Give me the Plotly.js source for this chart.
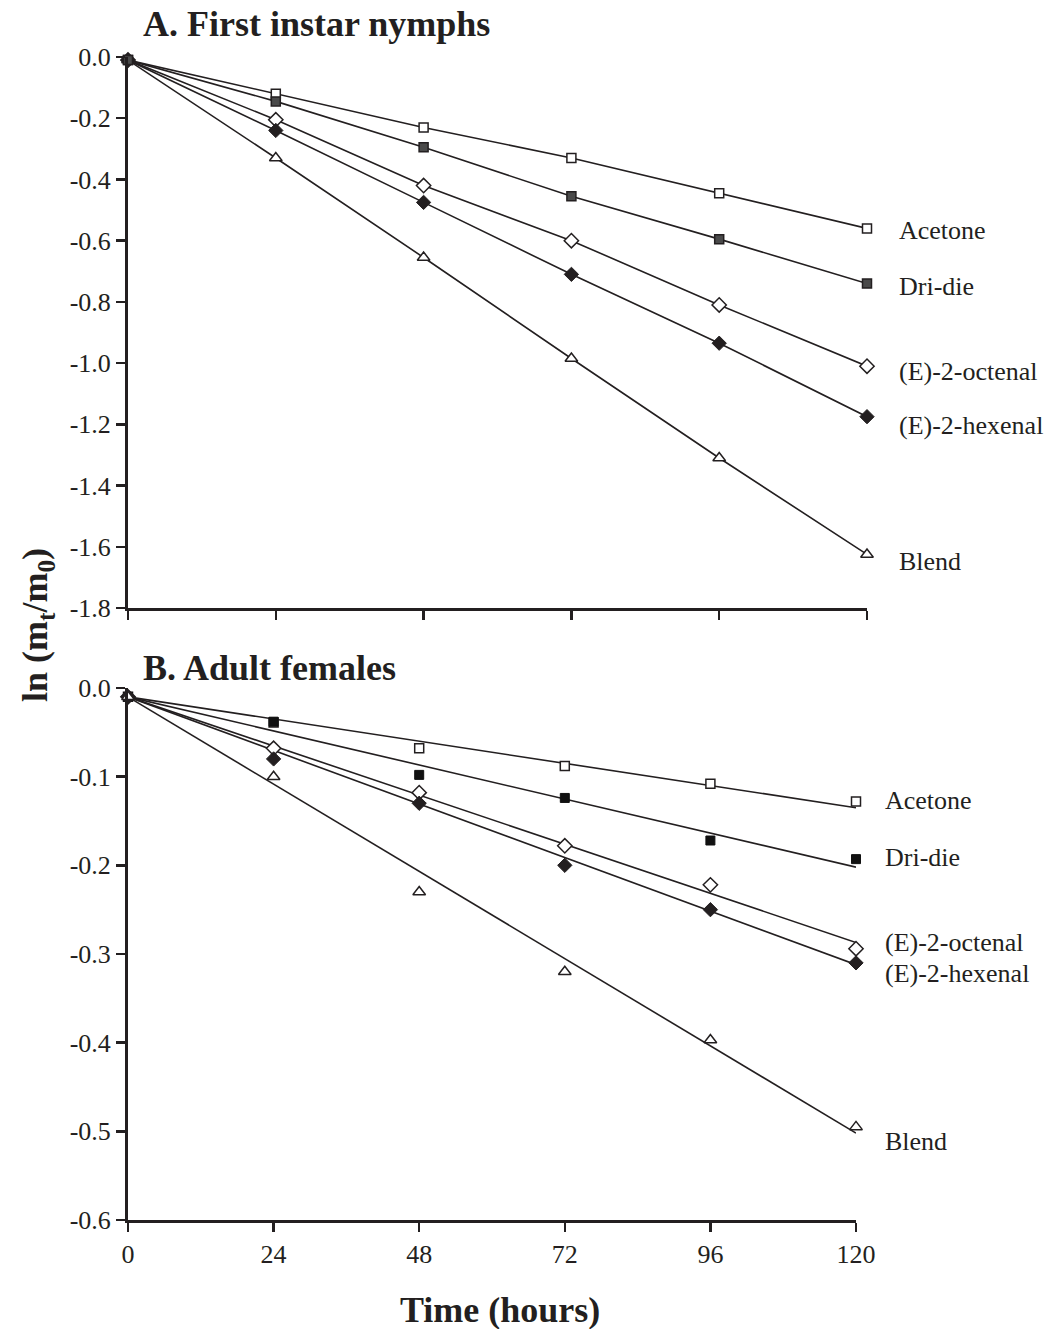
<!DOCTYPE html>
<html><head><meta charset="utf-8">
<script src="https://cdn.plot.ly/plotly-3.0.1.min.js"></script>
<style>body{margin:0;background:#fff}</style>
</head><body><div id="chart" style="width:1058px;height:1329px"></div>
<script>
// ---- data ----
const hours = [0, 24, 48, 72, 96, 120];
const seriesNames = ['Acetone', 'Dri-die', '(E)-2-octenal', '(E)-2-hexenal', 'Blend'];

// Panel A: first instar nymphs, ln(mt/m0)
const nymphAcetone = [-0.01, -0.12, -0.23, -0.33, -0.445, -0.56];
const nymphDridie  = [-0.01, -0.145, -0.295, -0.455, -0.595, -0.74];
const nymphOctenal = [-0.01, -0.205, -0.42, -0.60, -0.81, -1.01];
const nymphHexenal = [-0.01, -0.24, -0.475, -0.71, -0.935, -1.175];
const nymphBlend   = [-0.01, -0.33, -0.655, -0.985, -1.31, -1.625];

// Panel B: adult females, ln(mt/m0)
const adultAcetone = [-0.01, -0.039, -0.068, -0.088, -0.108, -0.128];
const adultDridie  = [-0.01, -0.038, -0.098, -0.124, -0.172, -0.193];
const adultOctenal = [-0.01, -0.068, -0.118, -0.178, -0.222, -0.294];
const adultHexenal = [-0.01, -0.08, -0.13, -0.20, -0.25, -0.31];
const adultBlend   = [-0.01, -0.10, -0.23, -0.32, -0.397, -0.495];

// Panel B: fitted regression lines (start at 0 h, end at 120 h)
const fitHours = [0, 120];
const adultAcetoneFit = [-0.01, -0.135];
const adultDridieFit  = [-0.01, -0.202];
const adultOctenalFit = [-0.01, -0.287];
const adultHexenalFit = [-0.01, -0.312];
const adultBlendFit   = [-0.01, -0.502];

// tick labels
const xTickVals = [0, 24, 48, 72, 96, 120];
const xTickText = ['0', '24', '48', '72', '96', '120'];
const yTickValsA = [0, -0.2, -0.4, -0.6, -0.8, -1.0, -1.2, -1.4, -1.6, -1.8];
const yTickTextA = ['0.0', '-0.2', '-0.4', '-0.6', '-0.8', '-1.0', '-1.2', '-1.4', '-1.6', '-1.8'];
const yTickValsB = [0, -0.1, -0.2, -0.3, -0.4, -0.5, -0.6];
const yTickTextB = ['0.0', '-0.1', '-0.2', '-0.3', '-0.4', '-0.5', '-0.6'];

// ---- styles ----
const INK = '#231f20';
const FONT = '"Liberation Serif", "Times New Roman", serif';
const markerA = [
  {symbol: 'square', size: 9, color: '#fff', line: {width: 1.5, color: INK}},
  {symbol: 'square', size: 9, color: '#4a4a4a', line: {width: 1.5, color: INK}},
  {symbol: 'diamond', size: 11, color: '#fff', line: {width: 1.5, color: INK}},
  {symbol: 'diamond', size: 11, color: INK, line: {width: 1, color: INK}},
  {symbol: 'triangle-up', size: 11, color: '#fff', line: {width: 1.5, color: INK}}
];
const markerB = [
  {symbol: 'square', size: 9, color: '#fff', line: {width: 1.5, color: INK}},
  {symbol: 'square', size: 9, color: '#111', line: {width: 1, color: '#111'}},
  {symbol: 'diamond', size: 11, color: '#fff', line: {width: 1.5, color: INK}},
  {symbol: 'diamond', size: 11, color: INK, line: {width: 1, color: INK}},
  {symbol: 'triangle-up', size: 11, color: '#fff', line: {width: 1.5, color: INK}}
];

const nymphData = [nymphAcetone, nymphDridie, nymphOctenal, nymphHexenal, nymphBlend];
const adultData = [adultAcetone, adultDridie, adultOctenal, adultHexenal, adultBlend];
const adultFits = [adultAcetoneFit, adultDridieFit, adultOctenalFit, adultHexenalFit, adultBlendFit];
const orderA = [0, 2, 3, 4, 1];   // drawing order (dri-die on top)
const orderB = [0, 1, 2, 3, 4];

const traces = [];
orderA.forEach(i => {
  traces.push({x: hours, y: nymphData[i], xaxis: 'x', yaxis: 'y', type: 'scatter', mode: 'lines',
    name: seriesNames[i], cliponaxis: false, showlegend: false,
    line: {color: INK, width: 1.6}});
});
orderA.forEach(i => {
  traces.push({x: hours, y: nymphData[i], xaxis: 'x', yaxis: 'y', type: 'scatter', mode: 'markers',
    name: seriesNames[i], cliponaxis: false, showlegend: false, marker: markerA[i]});
});
adultFits.forEach((ys, i) => {
  traces.push({x: fitHours, y: ys, xaxis: 'x2', yaxis: 'y2', type: 'scatter', mode: 'lines',
    name: seriesNames[i] + ' fit', cliponaxis: false, showlegend: false,
    line: {color: INK, width: 1.6}});
});
orderB.forEach(i => {
  traces.push({x: hours, y: adultData[i], xaxis: 'x2', yaxis: 'y2', type: 'scatter', mode: 'markers',
    name: seriesNames[i], cliponaxis: false, showlegend: false, marker: markerB[i]});
});

// ---- layout (pixel geometry) ----
const W = 1058, H = 1329;
const L = 128, R = 867, T = 57, B = 1220;
const pw = R - L, ph = B - T;
const px = x => (x - L) / pw;
const py = y => (B - y) / ph;

const axisCommon = {
  showline: true, linecolor: INK, linewidth: 3, showgrid: false, zeroline: false,
  ticks: 'outside', ticklen: 9, tickwidth: 2.5, tickcolor: INK,
  tickfont: {family: FONT, size: 26, color: INK}, fixedrange: true
};

const annFont = {family: FONT, size: 26, color: INK};
const labelsA = [230, 286, 372, 425, 561];
const labelsB = [800, 857, 942, 973, 1141];
const annotations = [];
seriesNames.forEach((n, i) => {
  annotations.push({xref: 'paper', yref: 'paper', x: px(897), y: py(labelsA[i]), text: n,
    showarrow: false, xanchor: 'left', yanchor: 'middle', font: annFont});
  annotations.push({xref: 'paper', yref: 'paper', x: px(883), y: py(labelsB[i]), text: n,
    showarrow: false, xanchor: 'left', yanchor: 'middle', font: annFont});
});
const boldFont = {family: FONT, size: 36, color: INK, weight: 'bold'};
annotations.push({xref: 'paper', yref: 'paper', x: px(141), y: py(24), text: '<b>A. First instar nymphs</b>',
  showarrow: false, xanchor: 'left', yanchor: 'middle', font: boldFont});
annotations.push({xref: 'paper', yref: 'paper', x: px(141), y: py(668), text: '<b>B. Adult females</b>',
  showarrow: false, xanchor: 'left', yanchor: 'middle', font: boldFont});
annotations.push({xref: 'paper', yref: 'paper', x: px(500), y: py(1310), text: '<b>Time (hours)</b>',
  showarrow: false, xanchor: 'center', yanchor: 'middle', font: boldFont});
annotations.push({xref: 'paper', yref: 'paper', x: px(37), y: py(625), text: '<b>ln (m<sub>t</sub>/m<sub>0</sub>)</b>',
  showarrow: false, xanchor: 'center', yanchor: 'middle', textangle: -90, font: boldFont});

const layout = {
  width: W, height: H,
  margin: {l: L, r: W - R, t: T, b: H - B, pad: 0},
  paper_bgcolor: '#fff', plot_bgcolor: '#fff',
  showlegend: false,
  xaxis: Object.assign({}, axisCommon, {domain: [0, 1], range: [0, 120], anchor: 'y',
    tickvals: xTickVals, ticktext: xTickText, showticklabels: false}),
  yaxis: Object.assign({}, axisCommon, {domain: [py(608), 1], range: [-1.8, 0], anchor: 'x',
    tickvals: yTickValsA, ticktext: yTickTextA}),
  xaxis2: Object.assign({}, axisCommon, {domain: [0, px(856)], range: [0, 120], anchor: 'y2',
    tickvals: xTickVals, ticktext: xTickText}),
  yaxis2: Object.assign({}, axisCommon, {domain: [0, py(688)], range: [-0.6, 0], anchor: 'x2',
    tickvals: yTickValsB, ticktext: yTickTextB}),
  annotations: annotations
};

Plotly.newPlot('chart', traces, layout, {displayModeBar: false, staticPlot: true});
</script>
</body></html>
